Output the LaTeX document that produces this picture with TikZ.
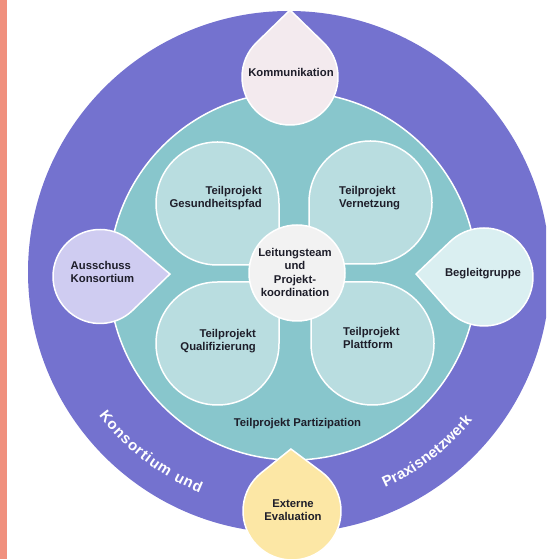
\documentclass[tikz,border=0pt]{standalone}
\usepackage{fontspec}
\setmainfont{Liberation Sans}
\usetikzlibrary{decorations.text}

\definecolor{salmon}{HTML}{F0907E}
\definecolor{ringpurple}{HTML}{7472CF}
\definecolor{ringteal}{HTML}{88C6CC}
\definecolor{petalblue}{HTML}{B9DDE0}
\definecolor{hubgrey}{HTML}{F2F2F2}
\definecolor{dropkomm}{HTML}{F3EAEE}
\definecolor{dropaus}{HTML}{CFCCF1}
\definecolor{dropbeg}{HTML}{DAEFF1}
\definecolor{dropext}{HTML}{FCE7A5}
\definecolor{ink}{HTML}{1E1E2A}

\setlength{\tabcolsep}{0pt}

\newcommand{\teardrop}[5]{%
	\pgfmathsetmacro\dropalpha{acos(#3/#5)}
	\draw[drop=#1] ([shift={(#2)}]#4:#5) -- ([shift={(#2)}]#4+\dropalpha:#3) arc[start angle=#4+\dropalpha,end angle=#4+360-\dropalpha,radius=#3] -- cycle;
}

\tikzset{
	petal/.style={fill=petalblue,draw=white,line width=1.5pt},
	drop/.style={fill=#1,draw=white,line width=1.5pt},
	txt/.style={inner sep=0pt,text=ink,font=\fontsize{11.3}{13.3}\selectfont\bfseries},
	ringtext/.style={decorate,decoration={text along path,text={|\fontsize{15}{18}\selectfont\bfseries\color{white}|#1},text align={fit to path}}},
}

\begin{document}
\begin{tikzpicture}[x=1pt,y=1pt]
		\useasboundingbox (0,0) rectangle (546,559);
		\clip (0,0) rectangle (546,559);
		
		\fill[salmon] (0,0) rectangle (7,559);
		
		\fill[ringpurple] (289,287) circle (261);
		\draw[fill=ringteal,draw=white,line width=1.5pt] (293,283) circle (184);
		
		\draw[petal] (279,294) -- (217.5,294) arc[start angle=270,end angle=0,radius=61.5] -- cycle;
		\draw[petal] (309,295) -- (370.5,295) arc[start angle=270,end angle=540,radius=61.5] -- cycle;
		\draw[petal] (279,277) -- (217.5,277) arc[start angle=90,end angle=360,radius=61.5] -- cycle;
		\draw[petal] (311,277) -- (372.5,277) arc[start angle=90,end angle=-180,radius=61.5] -- cycle;
		
		\draw[fill=hubgrey,draw=white,line width=1.5pt] (297,286) circle (48);
		
		\teardrop{dropkomm}{290,482}{48}{90}{67}
		\teardrop{dropaus}{100,282.5}{47}{2}{70}
		\teardrop{dropbeg}{484,282}{49}{177.5}{68}
		\teardrop{dropext}{292,48}{49}{91}{62}
		
		\node[txt] (komm) at (291,487){Kommunikation};
		\node[txt,anchor=east] (gesund) at (262,360.5){\begin{tabular}{r}Teilprojekt\\Gesundheitspfad\end{tabular}};
		\node[txt,anchor=west] (vernetz) at (339,360.5){\begin{tabular}{l}Teilprojekt\\Vernetzung\end{tabular}};
		\node[txt,align=center] (leitung) at (295,286.5){Leitungsteam\\und\\Projekt-\\koordination};
		\node[txt,anchor=west] (ausschuss) at (70.5,285.5){\begin{tabular}{l}Ausschuss\\Konsortium\end{tabular}};
		\node[txt] (begleit) at (483,285){Begleitgruppe};
		\node[txt,anchor=east] (quali) at (256,218){\begin{tabular}{r}Teilprojekt\\Qualifizierung\end{tabular}};
		\node[txt,anchor=west] (plattform) at (343,219.5){\begin{tabular}{l}Teilprojekt\\Plattform\end{tabular}};
		\node[txt] (partizip) at (297.5,135.5){Teilprojekt Partizipation};
		\node[txt] (extern) at (293,48){\begin{tabular}{c}Externe\\Evaluation\end{tabular}};
		
		\path[ringtext={Konsortium und}] ([shift={(289,287)}]217:238) arc[start angle=217,end angle=248,radius=238];
		\path[ringtext={Praxisnetzwerk}] ([shift={(289,287)}]294:236) arc[start angle=294,end angle=321,radius=236];
	\end{tikzpicture}
\end{document}
